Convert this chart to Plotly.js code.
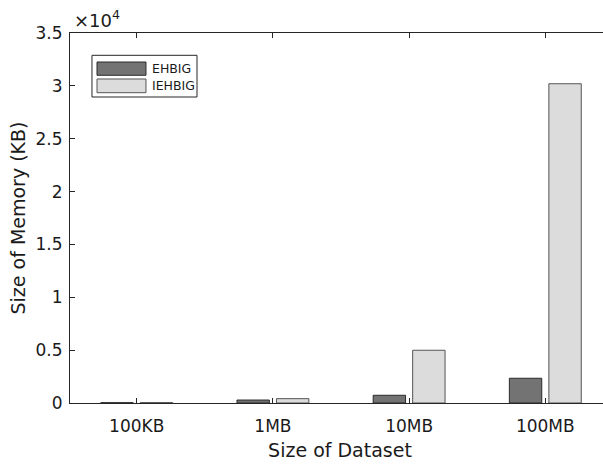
<!DOCTYPE html>
<html>
<head>
<meta charset="utf-8">
<script src="https://cdn.plot.ly/plotly-3.0.1.min.js"></script>
<style>html,body{margin:0;padding:0;background:#fff;overflow:hidden;}#wrap{width:603px;height:465px;overflow:hidden;}#chart{width:610px;height:465px;}</style>
</head>
<body>
<div id="wrap"><div id="chart"></div></div>
<script>
const categories = ["100KB", "1MB", "10MB", "100MB"];
const seriesNames = ["EHBIG", "IEHBIG"];
const ehbig = [30, 280, 730, 2340];
const iehbig = [40, 410, 4990, 30200];
const yTickVals = [0, 5000, 10000, 15000, 20000, 25000, 30000, 35000];
const yTickText = ["0", "0.5", "1", "1.5", "2", "2.5", "3", "3.5"];

const xIdx = categories.map((c, i) => i);
const fills = ["#737373", "#dcdcdc"];
const edges = ["#2a2a2a", "#555555"];

const traces = [ehbig, iehbig].map((vals, k) => ({
  type: "bar", name: seriesNames[k], x: xIdx, y: vals, showlegend: false,
  marker: {color: fills[k], line: {color: edges[k], width: 1}}
}));

const fam = "DejaVu Sans, Liberation Sans, Arial, sans-serif";
const txt = "#1a1a1a";
const F = s => ({family: fam, size: s, color: txt});

const legendShapes = [
  {type: "rect", xref: "paper", yref: "paper", x0: 0.0407, x1: 0.2352, y0: 0.827, y1: 0.9397,
   line: {color: "#262626", width: 1}, fillcolor: "#fff", layer: "above"},
  {type: "rect", xref: "paper", yref: "paper", x0: 0.05, x1: 0.1407, y0: 0.8857, y1: 0.9216,
   line: {color: edges[0], width: 1}, fillcolor: fills[0], layer: "above"},
  {type: "rect", xref: "paper", yref: "paper", x0: 0.05, x1: 0.1407, y0: 0.8386, y1: 0.8757,
   line: {color: edges[1], width: 1}, fillcolor: fills[1], layer: "above"}
];
const legendText = seriesNames.map((n, k) => ({
  xref: "paper", yref: "paper", x: 0.149, y: [0.9037, 0.8573][k], xanchor: "left", yanchor: "middle",
  text: n, showarrow: false, font: F(12.5)
}));

const layout = {
  width: 610, height: 465,
  margin: {l: 70, r: 0, t: 33, b: 62},
  paper_bgcolor: "#fff", plot_bgcolor: "#fff",
  font: F(17),
  barmode: "group", bargap: 0.42, bargroupgap: 0.18,
  showlegend: false,
  xaxis: {
    range: [-0.49, 3.475], tickmode: "array", tickvals: xIdx, ticktext: categories,
    ticks: "inside", ticklen: 5, tickcolor: "#262626", tickwidth: 1, ticklabelstandoff: 8,
    showline: true, linecolor: "#262626", linewidth: 1, mirror: "ticks",
    showgrid: false, zeroline: false,
    tickfont: F(17),
    title: {text: "Size of Dataset", font: F(19), standoff: 8}
  },
  yaxis: {
    range: [0, 35000], tickmode: "array", tickvals: yTickVals, ticktext: yTickText,
    ticks: "inside", ticklen: 5, tickcolor: "#262626", tickwidth: 1, ticklabelstandoff: 3,
    showline: true, linecolor: "#262626", linewidth: 1, mirror: false,
    showgrid: false, zeroline: false,
    tickfont: F(17),
    title: {text: "Size of Memory (KB)", font: F(19), standoff: 4}
  },
  shapes: legendShapes,
  annotations: legendText.concat([{
    xref: "paper", yref: "paper", x: 0.003, y: 1.0, xanchor: "left", yanchor: "bottom",
    text: "×10<sup>4</sup>", showarrow: false, font: F(18)
  }])
};

Plotly.newPlot("chart", traces, layout, {displayModeBar: false, staticPlot: true});
</script>
</body>
</html>
